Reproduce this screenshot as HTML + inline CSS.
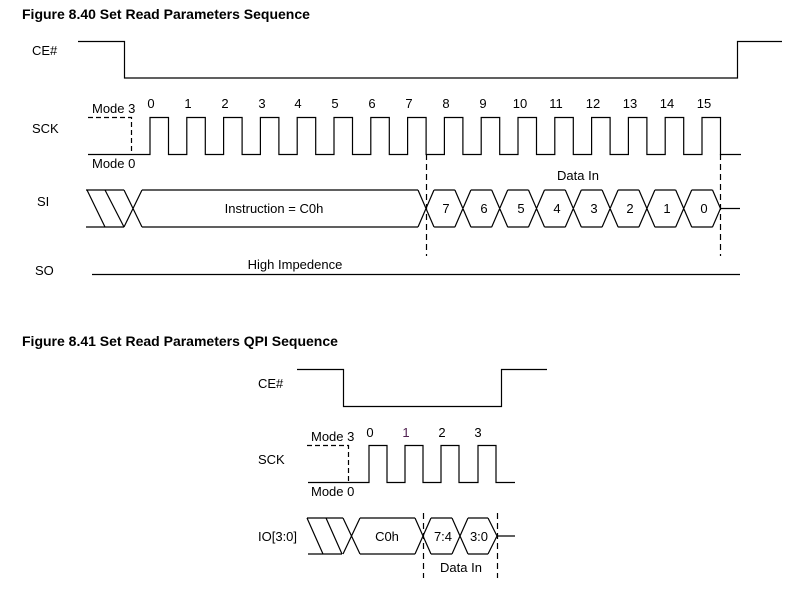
<!DOCTYPE html>
<html><head><meta charset="utf-8"><style>
html,body{margin:0;padding:0;background:#fff;}
svg{display:block;}
text{font-family:"Liberation Sans",Arial,sans-serif;font-size:13px;fill:#000;}
.t{font-weight:bold;font-size:14px;}
</style></head><body>
<svg width="799" height="589" viewBox="0 0 799 589" xmlns="http://www.w3.org/2000/svg">
<g fill="none" stroke="#000" stroke-width="1.2">
<path d="M78 41.5H124.5V78H737.5V41.5H782"/>
<path d="M88 117.5H131.5V154" stroke-dasharray="5,3"/>
<path d="M88 154.5H150V117.5H168.5V154.5H186.8V117.5H205.3V154.5H223.6V117.5H242.1V154.5H260.4V117.5H278.9V154.5H297.2V117.5H315.7V154.5H334V117.5H352.5V154.5H370.8V117.5H389.3V154.5H407.6V117.5H426.1V154.5H444.4V117.5H462.9V154.5H481.2V117.5H499.7V154.5H518V117.5H536.5V154.5H554.8V117.5H573.3V154.5H591.6V117.5H610.1V154.5H628.4V117.5H646.9V154.5H665.2V117.5H683.7V154.5H702V117.5H720.5V154.5H741"/>
<path d="M426.5 154V256M720.5 154V256" stroke-dasharray="6,4"/>
<path d="M87 190L105 227M105 190L124 227M124 190L142 227M142 190L124 227M86 227H124M86 190H124M142 190H418M142 227H418"/>
<path d="M418 190L434 227M418 227L434 190"/>
<path d="M434.1 190H454.9M434.1 227H454.9M454.9 190L470.9 227M454.9 227L470.9 190
M470.9 190H491.7M470.9 227H491.7M491.7 190L507.7 227M491.7 227L507.7 190
M507.7 190H528.5M507.7 227H528.5M528.5 190L544.5 227M528.5 227L544.5 190
M544.5 190H565.3M544.5 227H565.3M565.3 190L581.3 227M565.3 227L581.3 190
M581.3 190H602.1M581.3 227H602.1M602.1 190L618.1 227M602.1 227L618.1 190
M618.1 190H638.9M618.1 227H638.9M638.9 190L654.9 227M638.9 227L654.9 190
M654.9 190H675.7M654.9 227H675.7M675.7 190L691.7 227M675.7 227L691.7 190
M691.7 190H712.5M691.7 227H712.5M712.5 190L720.5 208.5L712.5 227M720.5 208.5H740"/>
<path d="M92 274.5H740"/>
<path d="M297 369.5H343.5V406.5H501.5V369.5H547"/>
<path d="M307 445.5H348.5V482" stroke-dasharray="5,3"/>
<path d="M308 482.5H369V445.5H387V482.5H405V445.5H423V482.5H441V445.5H459V482.5H478V445.5H496V482.5H515"/>
<path d="M307 518L323 554M326 518L342 554M343 518L360 554M360 518L343 554M308 554H342M307 518H343M360 518H415M360 554H415M415 518L431 554M415 554L431 518M431 518H452M431 554H452M452 518L468 554M452 554L468 518M468 518H488M468 554H488M488 518L497 536L488 554M497 536H515"/>
<path d="M423.5 513V578M497.5 513V578" stroke-dasharray="6,4"/>
</g>
<text class="t" x="22" y="19">Figure 8.40 Set Read Parameters Sequence</text>
<text x="32" y="55">CE#</text>
<text x="32" y="133">SCK</text>
<text x="37" y="206">SI</text>
<text x="35" y="275">SO</text>
<text x="92" y="113">Mode 3</text>
<text x="92" y="168">Mode 0</text>
<g text-anchor="middle">
<text x="151" y="108">0</text><text x="188" y="108">1</text><text x="225" y="108">2</text><text x="262" y="108">3</text><text x="298" y="108">4</text><text x="335" y="108">5</text><text x="372" y="108">6</text><text x="409" y="108">7</text><text x="446" y="108">8</text><text x="483" y="108">9</text><text x="520" y="108">10</text><text x="556" y="108">11</text><text x="593" y="108">12</text><text x="630" y="108">13</text><text x="667" y="108">14</text><text x="704" y="108">15</text>
<text x="578" y="180">Data In</text>
<text x="274" y="213">Instruction = C0h</text>
<text x="446" y="213">7</text><text x="484" y="213">6</text><text x="521" y="213">5</text><text x="557" y="213">4</text><text x="594" y="213">3</text><text x="630" y="213">2</text><text x="667" y="213">1</text><text x="704" y="213">0</text>
<text x="295" y="269">High Impedence</text>
<text x="370" y="437">0</text><text x="406" y="437" style="fill:#502050">1</text><text x="442" y="437">2</text><text x="478" y="437">3</text>
<text x="387" y="541">C0h</text><text x="443" y="541">7:4</text><text x="479" y="541">3:0</text>
<text x="461" y="572">Data In</text>
</g>
<text class="t" x="22" y="346">Figure 8.41 Set Read Parameters QPI Sequence</text>
<text x="258" y="388">CE#</text>
<text x="311" y="441">Mode 3</text>
<text x="258" y="464">SCK</text>
<text x="311" y="496">Mode 0</text>
<text x="258" y="541">IO[3:0]</text>
</svg>
</body></html>
